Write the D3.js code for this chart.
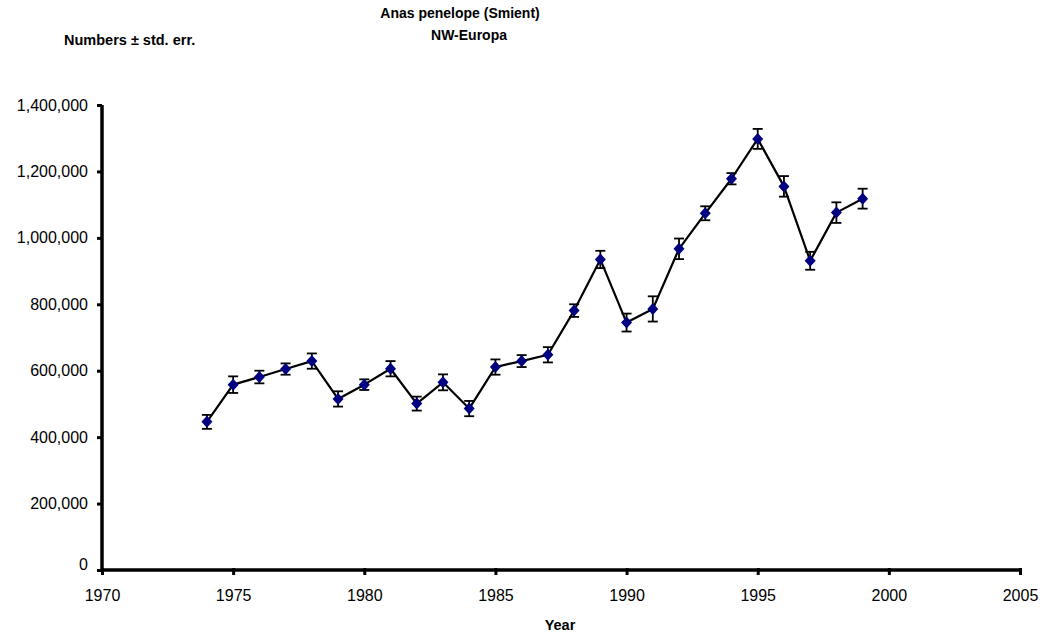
<!DOCTYPE html>
<html>
<head>
<meta charset="utf-8">
<script src="https://cdn.jsdelivr.net/npm/d3@7"></script>
<style>
  body { margin: 0; background: #ffffff; }
  svg { display: block; }
</style>
</head>
<body>
<div id="chart"></div>
<script>
// data

const years = [1974, 1975, 1976, 1977, 1978, 1979, 1980, 1981, 1982, 1983, 1984, 1985, 1986,
  1987, 1988, 1989, 1990, 1991, 1992, 1993, 1994, 1995, 1996, 1997, 1998, 1999];

const counts = [446000, 558000, 581000, 605000, 629000, 515000, 558000, 606000, 501000, 565000,
  486000, 611000, 629000, 648000, 781000, 935000, 745000, 786000, 967000, 1074000,
  1178000, 1298000, 1155000, 931000, 1076000, 1118000];

const stdErr = [21000, 25000, 19000, 17000, 23000, 23000, 16000, 23000, 21000, 24000,
  23000, 23000, 18000, 23000, 19000, 26000, 27000, 38000, 31000, 21000,
  17000, 30000, 31000, 27000, 31000, 30000];

const xTicks = [1970, 1975, 1980, 1985, 1990, 1995, 2000, 2005];
const yTicks = [0, 200000, 400000, 600000, 800000, 1000000, 1200000, 1400000];

// config

const width = 1042;
const height = 633;
const margin = { top: 105, bottom: 63, left: 102, right: 22 };
const font = "'Liberation Sans', Arial, sans-serif";

const data = years.map((y, i) => ({ year: y, count: counts[i], err: stdErr[i] }));

// scales

const xScale = d3.scaleLinear()
  .domain([1970, 2005])
  .range([margin.left, width - margin.right]);

const yScale = d3.scaleLinear()
  .domain([0, 1400000])
  .range([height - margin.bottom, margin.top]);

const svg = d3.select("#chart")
  .append("svg")
  .attr("width", width)
  .attr("height", height)
  .attr("viewBox", [0, 0, width, height]);

// axes

const xAxis = d3.axisBottom(xScale)
  .tickValues(xTicks)
  .tickFormat(d3.format("d"))
  .tickSize(5)
  .tickPadding(15);

const yAxis = d3.axisLeft(yScale)
  .tickValues(yTicks)
  .tickFormat(d3.format(","))
  .tickSize(5)
  .tickPadding(9);

svg.append("g")
  .attr("transform", "translate(0, " + yScale(0) + ")")
  .call(xAxis)
  .call(g => g.select(".domain")
    .attr("stroke", "#000")
    .attr("stroke-width", 3.5)
    .attr("d", `M${xScale(1970)},0H${xScale(2005)}`))
  .call(g => g.selectAll(".tick line")
    .attr("stroke", "#000")
    .attr("stroke-width", 3)
    .attr("y1", -2))
  .call(g => g.selectAll(".tick text")
    .attr("fill", "#000")
    .style("font-family", font)
    .style("font-size", "16px"));

svg.append("g")
  .attr("transform", "translate(" + xScale(1970) + ", 0)")
  .call(yAxis)
  .call(g => g.select(".domain")
    .attr("stroke", "#000")
    .attr("stroke-width", 3.5)
    .attr("d", `M0,${yScale(1400000)}V${yScale(0)}`))
  .call(g => g.selectAll(".tick line")
    .attr("stroke", "#000")
    .attr("stroke-width", 3))
  .call(g => g.selectAll(".tick text")
    .attr("fill", "#000")
    .style("font-family", font)
    .style("font-size", "16px"))
  .call(g => g.selectAll(".tick")
    .filter(d => d === 0)
    .select("text")
    .attr("dy", "-0.05em"));

// line

const line = d3.line()
  .x(d => xScale(d.year))
  .y(d => yScale(d.count));

svg.append("path")
  .attr("d", line(data))
  .attr("fill", "none")
  .attr("stroke", "#000")
  .attr("stroke-width", 2.2)
  .attr("stroke-linejoin", "round");

// error bars

const capW = 5;
const bars = svg.selectAll("g.err")
  .data(data)
  .join("g")
  .attr("class", "err")
  .attr("stroke", "#000")
  .attr("stroke-width", 1.8);

bars.append("line")
  .attr("x1", d => xScale(d.year))
  .attr("x2", d => xScale(d.year))
  .attr("y1", d => yScale(d.count + d.err))
  .attr("y2", d => yScale(d.count - d.err));

bars.append("line")
  .attr("x1", d => xScale(d.year) - capW)
  .attr("x2", d => xScale(d.year) + capW)
  .attr("y1", d => yScale(d.count + d.err))
  .attr("y2", d => yScale(d.count + d.err));

bars.append("line")
  .attr("x1", d => xScale(d.year) - capW)
  .attr("x2", d => xScale(d.year) + capW)
  .attr("y1", d => yScale(d.count - d.err))
  .attr("y2", d => yScale(d.count - d.err));

// diamond markers

svg.selectAll("path.point")
  .data(data)
  .join("path")
  .attr("class", "point")
  .attr("d", "M0,-6L5.5,0L0,6L-5.5,0Z")
  .attr("transform", d => `translate(${xScale(d.year)}, ${yScale(d.count)})`)
  .attr("fill", "#000080")
  .append("title")
  .text(d => `${d.year}: ${d3.format(",")(d.count)} ± ${d3.format(",")(d.err)}`);

// texts

svg.append("text")
  .attr("x", 460)
  .attr("y", 18)
  .attr("text-anchor", "middle")
  .style("font-family", font)
  .style("font-size", "14px")
  .style("font-weight", "bold")
  .text("Anas penelope (Smient)");

svg.append("text")
  .attr("x", 469)
  .attr("y", 40)
  .attr("text-anchor", "middle")
  .style("font-family", font)
  .style("font-size", "14px")
  .style("font-weight", "bold")
  .text("NW-Europa");

svg.append("text")
  .attr("x", 64)
  .attr("y", 45)
  .style("font-family", font)
  .style("font-size", "14.5px")
  .style("font-weight", "bold")
  .text("Numbers ± std. err.");

svg.append("text")
  .attr("x", 560)
  .attr("y", 630)
  .attr("text-anchor", "middle")
  .style("font-family", font)
  .style("font-size", "14.5px")
  .style("font-weight", "bold")
  .text("Year");
</script>
</body>
</html>
